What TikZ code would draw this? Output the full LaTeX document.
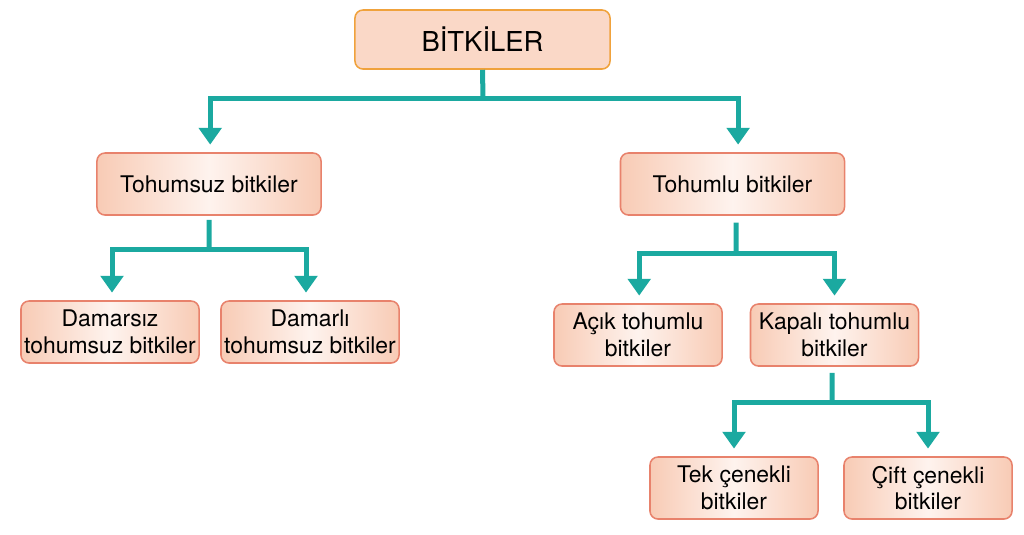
\documentclass[tikz,border=0pt]{standalone}
\usepackage{fontspec}
\setmainfont{TeX Gyre Heros}
\usetikzlibrary{arrows.meta}
\definecolor{teal1}{HTML}{1BA9A0}
\definecolor{peach}{HTML}{F8CBB5}
\definecolor{peachlight}{HTML}{FEF3EE}
\definecolor{boxline}{HTML}{E8826C}
\definecolor{topline}{HTML}{F0A23C}

\begin{document}
\begin{tikzpicture}[x=0.025cm,y=-0.025cm,
    box/.style={draw=boxline,line width=1.1pt,rounded corners=0.2cm,left color=peach,right color=peach,middle color=peachlight,
                minimum height=1.55cm,align=center,font=\fontsize{16.3}{19}\selectfont,inner sep=0pt},
    link/.style={draw=teal1,line width=0.125cm},
    arr/.style={link,-{Triangle[width=0.56cm,length=0.42cm]},shorten >=0.19cm}]
            \useasboundingbox (0,0) rectangle (1024,534);
            \node[box,draw=topline,minimum width=6.375cm,minimum height=1.475cm,font=\fontsize{19.5}{22}\selectfont,
                  left color=peach!75,right color=peach!75] (bitki) at (482.5,39.5) {BİTKİLER};
            \node[box,minimum width=5.6cm] (tsz) at (209,184)   {Tohumsuz bitkiler};
            \node[box,minimum width=5.6cm] (tlu) at (732.5,184) {Tohumlu bitkiler};
            \node[box,minimum width=4.45cm] (dsz) at (110,332)   {Damarsız\\tohumsuz bitkiler};
            \node[box,minimum width=4.45cm] (dli) at (310,332)   {Damarlı\\tohumsuz bitkiler};
            \node[box,minimum width=4.2cm] (acik) at (638,335)   {Açık tohumlu\\bitkiler};
            \node[box,minimum width=4.2cm] (kapali) at (834.5,335) {Kapalı tohumlu\\bitkiler};
            \node[box,minimum width=4.2cm] (tek) at (734,488)    {Tek çenekli\\bitkiler};
            \node[box,minimum width=4.2cm] (cift) at (928,488)   {Çift çenekli\\bitkiler};
            % junctions
            \coordinate (j1) at (483,98);
            \coordinate (j2) at (209,249);
            \coordinate (j3) at (736,253);
            \coordinate (j4) at (832,402);
            \path[link] (bitki.south) -- (j1)
                        ([yshift=-0.1cm]tsz.south) -- (j2)
                        ([xshift=0.09cm,yshift=-0.17cm]tlu.south) -- (j3)
                        ([xshift=-0.06cm,yshift=-0.15cm]kapali.south) -- (j4);
            \path[arr] (j1) -| ([xshift=0.03cm]tsz.north);
            \path[arr] (j1) -| ([xshift=0.14cm]tlu.north);
            \path[arr] (j2) -| ([xshift=0.05cm]dsz.north);
            \path[arr] (j2) -| ([xshift=-0.1cm]dli.north);
            \path[arr] (j3) -| ([xshift=0.03cm]acik.north);
            \path[arr] (j3) -| (kapali.north);
            \path[arr] (j4) -| (tek.north);
            \path[arr] (j4) -| (cift.north);
        \end{tikzpicture}
\end{document}
